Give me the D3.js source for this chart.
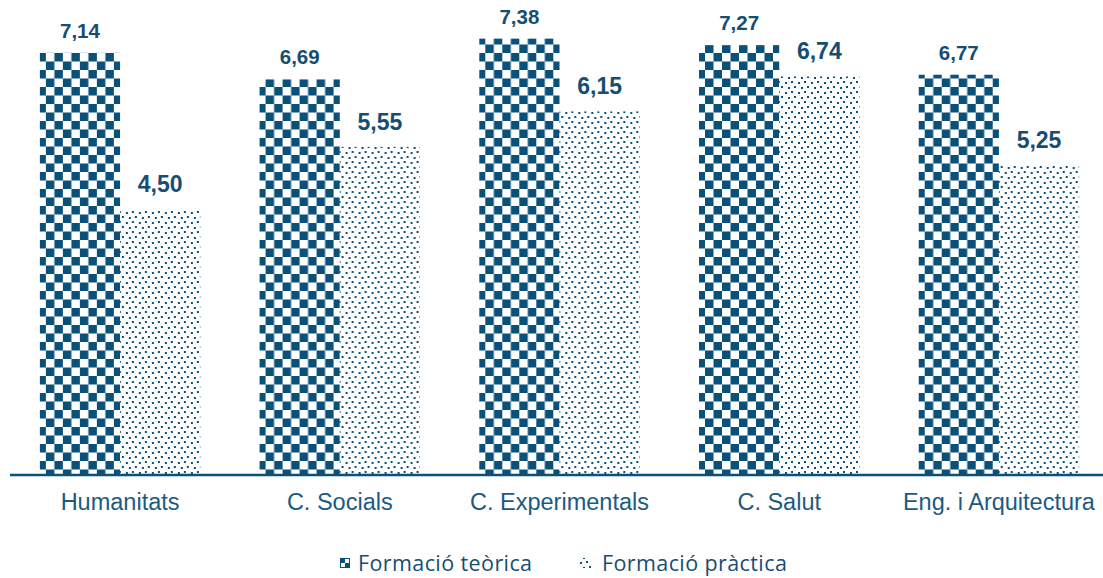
<!DOCTYPE html>
<html><head><meta charset="utf-8">
<script src="https://cdn.jsdelivr.net/npm/d3@7"></script>
<style>body{margin:0;background:#fff}svg{display:block}</style>
</head><body>
<svg id="c" width="1103" height="578"></svg>
<script>
const categories = ["Humanitats","C. Socials","C. Experimentals","C. Salut","Eng. i Arquitectura"];
const seriesNames = ["Formació teòrica","Formació pràctica"];
const teorica = [7.14,6.69,7.38,7.27,6.77];
const practica = [4.50,5.55,6.15,6.74,5.25];
const labelsTeorica = ["7,14","6,69","7,38","7,27","6,77"];
const labelsPractica = ["4,50","5,55","6,15","6,74","5,25"];

const C = "#0b5078";
const svg = d3.select("#c");
const defs = svg.append("defs");
// checkerboard
const chk = defs.append("pattern").attr("id","chk").attr("patternUnits","userSpaceOnUse")
  .attr("width",17).attr("height",17).attr("x",40).attr("y",53);
chk.append("rect").attr("width",17).attr("height",17).attr("fill","#fff");
chk.append("rect").attr("x",8.5).attr("y",0).attr("width",8.5).attr("height",8.5).attr("fill",C);
chk.append("rect").attr("x",0).attr("y",8.5).attr("width",8.5).attr("height",8.5).attr("fill",C);
// dots
const dot = defs.append("pattern").attr("id","dot").attr("patternUnits","userSpaceOnUse")
  .attr("width",13).attr("height",10).attr("x",0).attr("y",0);
dot.append("rect").attr("width",13).attr("height",10).attr("fill","#fff");
[[1,1,2,2],[8,2,2,2],[4,6,2,2],[11,7,2,2]].forEach(d=>{
  dot.append("rect").attr("x",d[0]).attr("y",d[1]).attr("width",d[2]).attr("height",d[3]).attr("fill",C);
});

const x0 = d3.scaleBand().domain(categories).range([10,1109]).paddingInner(0.27).paddingOuter(0.136);
const x1 = d3.scaleBand().domain(seriesNames).range([0,x0.bandwidth()]);
const y = d3.scaleLinear().domain([0,8]).range([475,2]);

const g = svg.append("g");
const data = categories.map((c,i)=>({c, vals:[
  {s:seriesNames[0],v:teorica[i],l:labelsTeorica[i]},
  {s:seriesNames[1],v:practica[i],l:labelsPractica[i]}]}));
const grp = g.selectAll("g.cat").data(data).join("g").attr("transform",d=>`translate(${x0(d.c)},0)`);
grp.selectAll("rect").data(d=>d.vals).join("rect")
  .attr("x",d=>x1(d.s)).attr("y",d=>y(d.v)).attr("width",x1.bandwidth()).attr("height",d=>y(0)-y(d.v))
  .attr("fill",(d,i)=>i===0?"url(#chk)":"url(#dot)");
grp.selectAll("text").data(d=>d.vals).join("text")
  .attr("x",d=>x1(d.s)+x1.bandwidth()/2)
  .attr("y",(d,i)=>y(d.v)-(i===0?15:17))
  .attr("text-anchor","middle")
  .attr("font-family","Liberation Sans, Arial, sans-serif")
  .attr("font-weight","bold")
  .attr("font-size",(d,i)=>i===0?"20.5px":"23px")
  .attr("fill","#174d72")
  .text(d=>d.l);

// axis
const ax = svg.append("g").attr("transform",`translate(0,${y(0)})`)
  .call(d3.axisBottom(x0).tickSize(0).tickPadding(18));
ax.select(".domain").attr("stroke",C).attr("stroke-width",2.5).attr("d","M10,0H1103");
ax.selectAll("text").attr("font-family","Liberation Sans, Arial, sans-serif").attr("font-size","23.5px").attr("fill","#1c5a82");

// legend
const leg = svg.append("g");
const items = [{n:seriesNames[0],tx:358},{n:seriesNames[1],tx:602}];
const lgDefs = defs.append("pattern").attr("id","lchk").attr("patternUnits","userSpaceOnUse")
  .attr("width",10).attr("height",10).attr("x",340).attr("y",558);
lgDefs.append("rect").attr("width",10).attr("height",10).attr("fill","#fff");
lgDefs.append("rect").attr("width",5).attr("height",5).attr("fill",C);
lgDefs.append("rect").attr("x",5).attr("y",5).attr("width",5).attr("height",5).attr("fill",C);
leg.append("rect").attr("x",340).attr("y",558).attr("width",10).attr("height",10).attr("fill","url(#lchk)");
leg.append("rect").attr("x",340.5).attr("y",558.5).attr("width",9).attr("height",9).attr("fill","none").attr("stroke",C).attr("stroke-width",1);
leg.append("rect").attr("x",578).attr("y",558).attr("width",13).attr("height",10).attr("fill","url(#dot)");
leg.selectAll("text").data(items).join("text")
  .attr("x",d=>d.tx).attr("y",571)
  .attr("font-family","Open Sans, Noto Sans, sans-serif").attr("font-size","21.5px").attr("letter-spacing","0.4px").attr("fill","#174d72")
  .text(d=>d.n);
</script>
</body></html>
